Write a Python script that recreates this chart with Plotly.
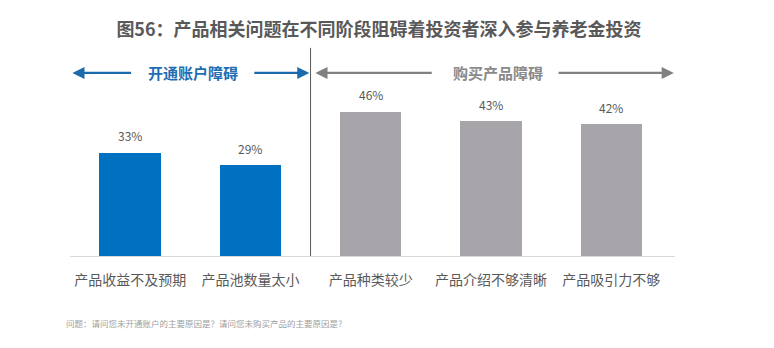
import plotly.graph_objects as go

categories = ["产品收益不及预期", "产品池数量太小", "产品种类较少", "产品介绍不够清晰", "产品吸引力不够"]
values = [33, 29, 46, 43, 42]
groups = ["开通账户障碍", "开通账户障碍", "购买产品障碍", "购买产品障碍", "购买产品障碍"]
group_labels = ["开通账户障碍", "购买产品障碍"]
title_text = "图56：产品相关问题在不同阶段阻碍着投资者深入参与养老金投资"
note_text = "问题：请问您未开通账户的主要原因是？请问您未购买产品的主要原因是？"

BLUE = "#0070C0"
GRAY_BAR = "#A7A5A9"
ARROW_BLUE = "#1B6AAE"
ARROW_GRAY = "#808080"
TEXT = "#595959"
FONT = "Noto Sans CJK SC"

W, H = 774, 348
ML, MR, MT, MB = 70, 99, 46, 92
PW, PH = W - ML - MR, H - MT - MB

colors = [BLUE if g == group_labels[0] else GRAY_BAR for g in groups]
xs = list(range(len(categories)))

fig = go.Figure()
fig.add_trace(go.Bar(x=xs, y=values, marker=dict(color=colors, line=dict(width=0)),
                     width=0.51, hoverinfo="skip"))

annotations = []
for x, v in zip(xs, values):
    annotations.append(dict(x=x, y=v, xref="x", yref="y", text=f"{v}%", showarrow=False,
                            yshift=17, font=dict(size=12, color=TEXT, family=FONT)))

arrow_y = 58.4

def arrow(x_head, x_tail, color):
    return dict(x=x_head, y=arrow_y, ax=x_tail, ay=arrow_y, xref="x", yref="y",
                axref="x", ayref="y", text="", showarrow=True, arrowhead=2,
                arrowsize=1.1, arrowwidth=2.2, arrowcolor=color, standoff=0, startstandoff=0)

annotations += [
    arrow(-0.48, 0.02, ARROW_BLUE),
    arrow(1.49, 1.02, ARROW_BLUE),
    arrow(1.54, 2.52, ARROW_GRAY),
    arrow(4.52, 3.55, ARROW_GRAY),
]
annotations.append(dict(x=0.52, y=arrow_y, xref="x", yref="y", text=f"<b>{group_labels[0]}</b>",
                        showarrow=False, font=dict(size=15, color="#1F6DB3", family=FONT)))
annotations.append(dict(x=3.06, y=arrow_y, xref="x", yref="y", text=f"<b>{group_labels[1]}</b>",
                        showarrow=False, font=dict(size=15, color="#8A8A8A", family=FONT)))

annotations.append(dict(x=(64 - ML) / PW, y=(H - MB - 323) / PH, xref="paper", yref="paper",
                        xanchor="left", yanchor="middle", text=note_text, showarrow=False,
                        font=dict(size=8.5, color="#A0A0A0", family=FONT)))

fig.update_layout(
    width=W, height=H,
    margin=dict(l=ML, r=MR, t=MT, b=MB),
    paper_bgcolor="white", plot_bgcolor="white",
    showlegend=False,
    bargap=0,
    title=dict(text=f"<b>{title_text}</b>", xref="container", x=379 / W, xanchor="center",
               yref="container", y=1 - 30 / H, yanchor="middle",
               font=dict(size=18, color=TEXT, family=FONT)),
    xaxis=dict(range=[-0.5, 4.53], tickmode="array", tickvals=xs, ticktext=categories,
               showgrid=False, zeroline=False, showline=True, linecolor="#D9D9D9", linewidth=1,
               ticks="", ticklabelstandoff=11,
               tickfont=dict(size=14, color=TEXT, family=FONT), fixedrange=True),
    yaxis=dict(range=[0, 67], visible=False, showgrid=False, zeroline=False, fixedrange=True),
    annotations=annotations,
    shapes=[dict(type="line", xref="x", yref="y", x0=1.5, x1=1.5, y0=0, y1=66.4,
                 line=dict(color="#595959", width=1))],
    font=dict(family=FONT),
)

fig.write_html("out.html")
